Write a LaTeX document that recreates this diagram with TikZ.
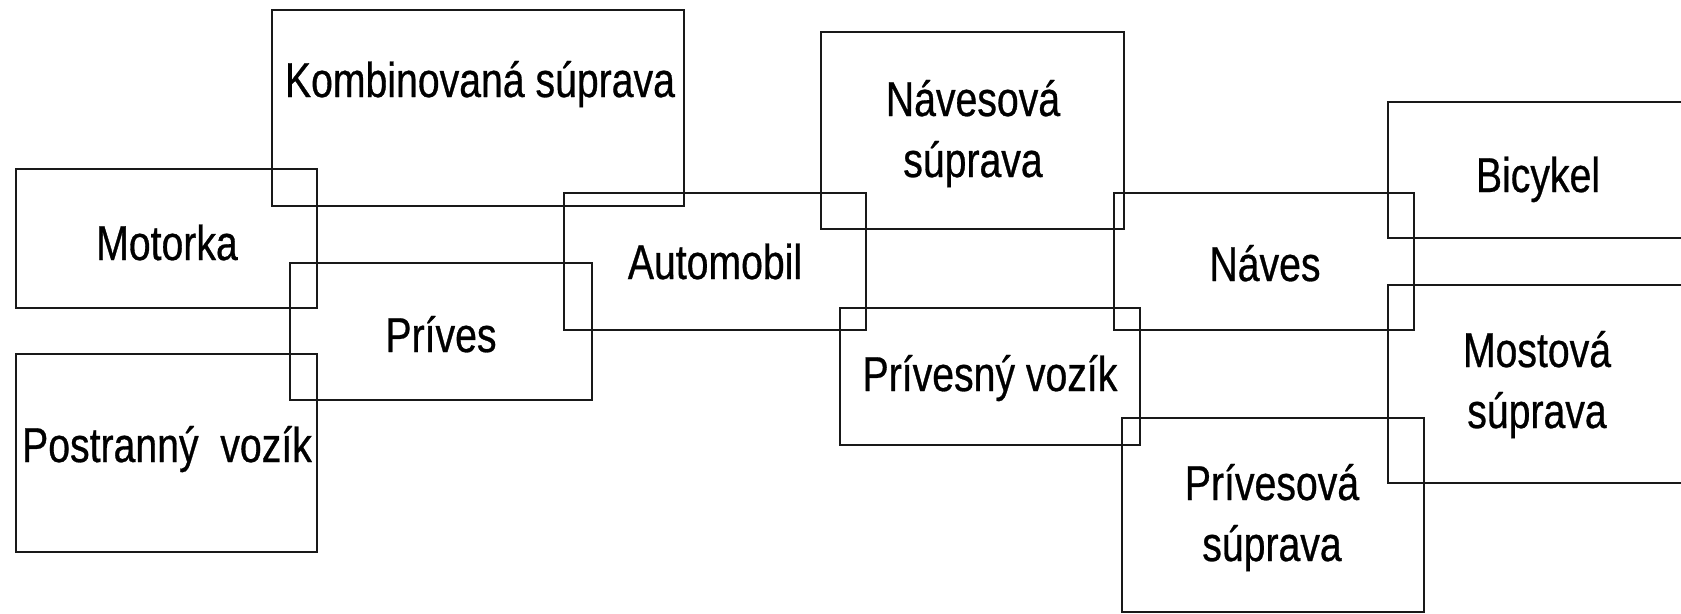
\documentclass[tikz,border=0pt]{standalone}
\usepackage{fontspec}
\setmainfont{Liberation Sans}[FakeStretch=0.8,FakeBold=0.6]
\newcommand{\twolines}[2]{\vtop{\baselineskip=61pt\halign{\hfil##\hfil\cr #1\cr #2\cr}}}
\begin{document}
\begin{tikzpicture}[x=1pt,y=-1pt,
  box/.style={draw=black!90,line width=2.6pt,rectangle,inner sep=0pt,outer sep=0pt},
  lbl/.style={anchor=base,inner sep=0pt,font=\fontsize{49}{58}\selectfont}]
\useasboundingbox (0,0) rectangle (1681,613);
% boxes
\node[box,minimum width=412pt,minimum height=196pt] (kb) at (478,108) {};
\node[box,minimum width=301pt,minimum height=139pt] (mb) at (166.5,238.5) {};
\node[box,minimum width=302pt,minimum height=137pt] (pb) at (441,331.5) {};
\node[box,minimum width=301pt,minimum height=198pt] (sb) at (166.5,453) {};
\node[box,minimum width=302pt,minimum height=137pt] (ab) at (715,261.5) {};
\node[box,minimum width=303pt,minimum height=197pt] (nsb) at (972.5,130.5) {};
\node[box,minimum width=300pt,minimum height=137pt] (nb) at (1264,261.5) {};
\node[box,minimum width=302pt,minimum height=136pt] (bb) at (1539,170) {};
\node[box,minimum width=302pt,minimum height=198pt] (msb) at (1539,384) {};
\node[box,minimum width=300pt,minimum height=137pt] (pvb) at (990,376.5) {};
\node[box,minimum width=302pt,minimum height=194pt] (psb) at (1273,515) {};
% labels
\node[lbl] (kt) at (480,97) {Kombinovaná súprava};
\node[lbl] (mt) at (167,260) {Motorka};
\node[lbl] (pt) at (441,352) {Príves};
\node[lbl] (st) at (167,462) {Postranný\ \ vozík};
\node[lbl] (at) at (715,279) {Automobil};
\node[lbl] (nst) at (973,116) {\twolines{Návesová}{súprava}};
\node[lbl] (nt) at (1265,281) {Náves};
\node[lbl] (bt) at (1538,192) {Bicykel};
\node[lbl] (mst) at (1537,367) {\twolines{Mostová}{súprava}};
\node[lbl] (pvt) at (990,391) {Prívesný vozík};
\node[lbl] (pst) at (1272,500) {\twolines{Prívesová}{súprava}};
\end{tikzpicture}
\end{document}
